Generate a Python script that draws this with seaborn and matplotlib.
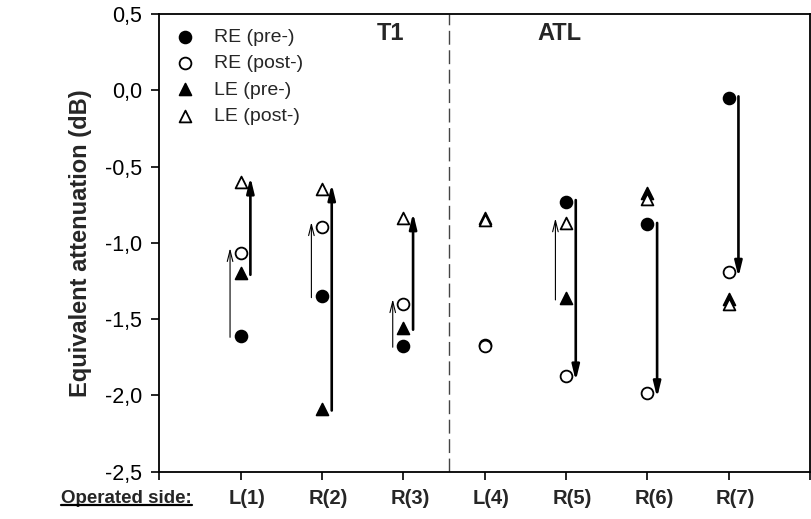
import matplotlib
matplotlib.use("Agg")
import matplotlib.pyplot as plt
from matplotlib.lines import Line2D
from matplotlib.ticker import FuncFormatter
import seaborn as sns
import pandas as pd

# values (dB)
sides = ['L(1)', 'R(2)', 'R(3)', 'L(4)', 'R(5)', 'R(6)', 'R(7)']
re_pre = [-1.61, -1.35, -1.675, -1.67, -0.73, -0.88, -0.05]
re_post = [-1.065, -0.895, -1.40, -1.68, -1.875, -1.985, -1.195]
le_pre = [-1.20, -2.09, -1.56, -0.835, -1.365, -0.675, -1.37]
le_post = [-0.60, -0.645, -0.835, -0.85, -0.87, -0.71, -1.40]

# arrows: which side / ear goes from pre to post, and thick or thin
arrow_side = ['L(1)', 'L(1)', 'R(2)', 'R(2)', 'R(3)', 'R(3)', 'R(5)', 'R(5)', 'R(6)', 'R(7)']
arrow_ear = ['RE', 'LE', 'RE', 'LE', 'RE', 'LE', 'LE', 'RE', 'RE', 'RE']
arrow_thick = [False, True, False, True, False, True, False, True, True, True]

pos = list(range(1, len(sides) + 1))
df = pd.DataFrame({
    'side': sides * 4,
    'x': pos * 4,
    'value': re_pre + re_post + le_pre + le_post,
    'series': ['RE (pre-)'] * 7 + ['RE (post-)'] * 7 + ['LE (pre-)'] * 7 + ['LE (post-)'] * 7,
})

sns.set_style('ticks')
plt.rcParams['font.family'] = ['Liberation Sans', 'DejaVu Sans']

fig = plt.figure(figsize=(8.11, 5.19), dpi=100)
ax = fig.add_axes([0.1964, 0.0915, 0.8024, 0.8815])

styles = {
    'RE (pre-)': ('o', 'black'),
    'RE (post-)': ('o', 'white'),
    'LE (pre-)': ('^', 'black'),
    'LE (post-)': ('^', 'white'),
}
for name, (mk, fc) in styles.items():
    sub = df[df['series'] == name]
    sns.scatterplot(data=sub, x='x', y='value', marker=mk, s=72, color=fc,
                    edgecolor='black', linewidth=1.3, label=name, ax=ax, zorder=3)

# arrows pre -> post
vals = {'RE': (re_pre, re_post), 'LE': (le_pre, le_post)}
for side, ear, thick in zip(arrow_side, arrow_ear, arrow_thick):
    i = sides.index(side)
    y0 = vals[ear][0][i]
    y1 = vals[ear][1][i]
    d = 1 if y1 > y0 else -1
    if thick:
        xa = pos[i] + 0.12
        style = '-|>,head_length=0.9,head_width=0.22'
        lw = 1.9
    else:
        xa = pos[i] - 0.13
        style = '->,head_length=0.8,head_width=0.2'
        lw = 0.8
    ax.annotate('', xy=(xa, y1 + 0.03 * d), xytext=(xa, y0 - 0.01 * d),
                arrowprops=dict(arrowstyle=style, lw=lw, color='black',
                                shrinkA=0, shrinkB=0, mutation_scale=10),
                zorder=2)

ax.axvline(3.56, color='#444444', lw=1.0, linestyle=(0, (10, 4)), zorder=1)

ax.set_xlim(0, 8)
ax.set_ylim(-2.5, 0.5)
ax.set_xticks(range(0, 9))
ax.set_xticklabels([])
ax.set_yticks([0.5, 0.0, -0.5, -1.0, -1.5, -2.0, -2.5])
ax.yaxis.set_major_formatter(FuncFormatter(lambda v, p: f'{v:.1f}'.replace('.', ',')))
ax.tick_params(axis='both', direction='out', length=5.5, width=1.2, color='black',
               labelsize=15.5, labelcolor='black', pad=7)
for sp in ax.spines.values():
    sp.set_visible(True)
    sp.set_color('black')
    sp.set_linewidth(1.3)

ax.set_xlabel('')
ax.set_ylabel('Equivalent attenuation (dB)', fontsize=17, fontweight='bold')
ax.yaxis.set_label_coords(-0.104, 0.5)

ax.text(2.84, 0.375, 'T1', fontsize=17, fontweight='bold', ha='center', va='center')
ax.text(4.92, 0.375, 'ATL', fontsize=17, fontweight='bold', ha='center', va='center')

trans = ax.get_xaxis_transform()
for i, s in enumerate(sides):
    ax.text(pos[i] + 0.08, -0.06, s, transform=trans, ha='center', va='center',
            fontsize=14.5, fontweight='bold')
lab = ax.text(-0.05, -0.06, 'Operated side:', transform=ax.transAxes, ha='center',
              va='center', fontsize=13.5, fontweight='bold')

ax.legend(loc='upper left', bbox_to_anchor=(0.026, 0.969), frameon=False,
          borderaxespad=0, borderpad=0, handlelength=0.95, handletextpad=1.0,
          labelspacing=0.45, fontsize=14)

fig.canvas.draw()
bb = lab.get_window_extent().transformed(fig.transFigure.inverted())
fig.add_artist(Line2D([bb.x0, bb.x1], [bb.y0 + 0.004, bb.y0 + 0.004],
                      transform=fig.transFigure, color='black', lw=1.6))

fig.savefig('out.png', dpi=100)
